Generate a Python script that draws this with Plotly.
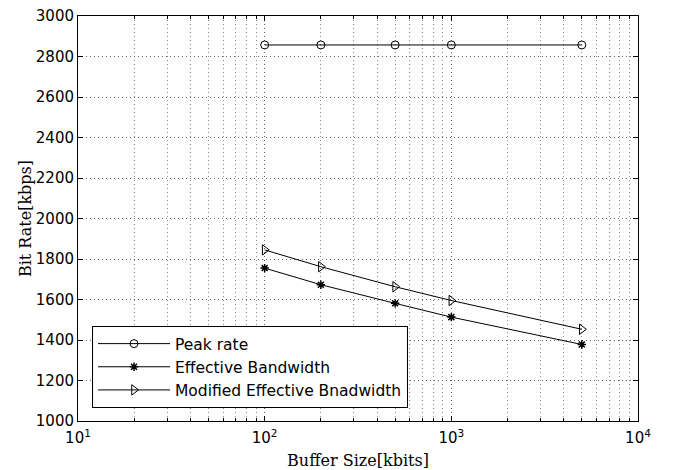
import plotly.graph_objects as go

buffer_size = [100, 200, 500, 1000, 5000]
peak_rate = [2857, 2857, 2857, 2857, 2857]
effective_bw = [1755, 1673, 1581, 1513, 1378]
modified_bw = [1845, 1762, 1663, 1595, 1453]

x_tickvals = [10, 100, 1000, 10000]
x_ticktext = ["10<sup>1</sup>", "10<sup>2</sup>", "10<sup>3</sup>", "10<sup>4</sup>"]

fig = go.Figure()
line = dict(color="black", width=1)
fig.add_trace(go.Scatter(x=buffer_size, y=peak_rate, mode="lines+markers", name="Peak rate",
                         line=line, marker=dict(symbol="circle-open", size=8, color="black", line=dict(width=1))))
fig.add_trace(go.Scatter(x=buffer_size, y=effective_bw, mode="lines+markers", name="Effective Bandwidth",
                         line=line, marker=dict(symbol="asterisk-open", size=7, color="black", line=dict(width=1.5))))
fig.add_trace(go.Scatter(x=buffer_size, y=modified_bw, mode="lines+markers", name="Modified Effective Bnadwidth",
                         line=line, marker=dict(symbol="triangle-right-open", size=9, color="black", line=dict(width=1))))

tickfont = dict(family="DejaVu Sans, sans-serif", size=15, color="black")
titlefont = dict(family="DejaVu Serif, serif", size=16, color="black")
grid = dict(showgrid=True, gridcolor="#666", griddash="1px,3px", gridwidth=1)

fig.update_layout(
    width=657, height=462,
    margin=dict(l=70, r=27, t=8, b=49),
    paper_bgcolor="white", plot_bgcolor="white",
    showlegend=True,
    legend=dict(x=0.025, y=0.032, xanchor="left", yanchor="bottom",
                bordercolor="black", borderwidth=1, bgcolor="white",
                font=dict(family="DejaVu Sans, sans-serif", size=15.5, color="black"),
                tracegroupgap=0, itemwidth=72),
    xaxis=dict(type="log", range=[1, 4], tickvals=x_tickvals, ticktext=x_ticktext,
               tickfont=tickfont, ticks="inside", ticklen=5, tickcolor="black",
               ticklabeloverflow="allow", ticklabelstandoff=3, automargin=False,
               showline=True, linecolor="black", linewidth=1, mirror="ticks",
               minor=dict(dtick="D1", ticks="inside", ticklen=3, tickcolor="black",
                          showgrid=True, gridcolor="#888", griddash="1px,3px", gridwidth=1),
               zeroline=False,
               title=dict(text="Buffer Size[kbits]", font=titlefont, standoff=8),
               **grid),
    yaxis=dict(range=[1000, 3000], dtick=200, tickfont=tickfont,
               ticks="inside", ticklen=5, tickcolor="black",
               ticklabeloverflow="allow", automargin=False,
               showline=True, linecolor="black", linewidth=1, mirror="ticks",
               zeroline=False,
               title=dict(text="Bit Rate[kbps]", font=titlefont, standoff=0),
               **grid),
)

fig.write_html("out.html")
